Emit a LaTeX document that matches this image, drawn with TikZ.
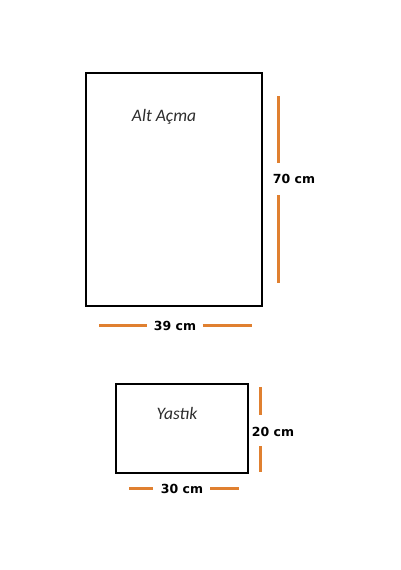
\documentclass[tikz,border=0pt]{standalone}
\usepackage{fontspec}
\setmainfont{Carlito}
\newfontfamily\dimfont{DejaVu Sans}
\definecolor{dimorange}{RGB}{224,128,48}
\definecolor{labelgray}{RGB}{45,45,45}
\tikzset{
  panel/.style={draw=black, line width=2.2pt, fill=white},
  dimline/.style={draw=dimorange, line width=3pt},
  dimlabel/.style={font=\dimfont\bfseries\fontsize{12.5}{14}\selectfont, inner sep=0pt},
  partlabel/.style={font=\itshape\fontsize{17.5}{20}\selectfont, text=labelgray, inner sep=0pt}
}
\begin{document}
\begin{tikzpicture}[x=1pt,y=-1pt]
\useasboundingbox (0,0) rectangle (400,570);
% big panel
\draw[panel] (86,73.3) rectangle (262,305.7);
\node[partlabel] (alt) at (164,117) {Alt Açma};
\coordinate (v1a) at (278,96);
\coordinate (v1b) at (278,163);
\coordinate (v1c) at (278,195);
\coordinate (v1d) at (278,282.7);
\draw[dimline] (v1a) -- (v1b);
\draw[dimline] (v1c) -- (v1d);
\node[dimlabel] (h70) at (294,179) {70 cm};
\coordinate (h1a) at (99.3,325.7);
\coordinate (h1b) at (146.7,325.7);
\coordinate (h1c) at (202.7,325.7);
\coordinate (h1d) at (251.7,325.7);
\draw[dimline] (h1a) -- (h1b);
\draw[dimline] (h1c) -- (h1d);
\node[dimlabel] (w39) at (175,326) {39 cm};
% small panel
\draw[panel] (116,384) rectangle (247.7,473.3);
\node[partlabel] (yas) at (177,413) {Yastık};
\coordinate (v2a) at (260,387);
\coordinate (v2b) at (260,415);
\coordinate (v2c) at (260,446);
\coordinate (v2d) at (260,471.7);
\draw[dimline] (v2a) -- (v2b);
\draw[dimline] (v2c) -- (v2d);
\node[dimlabel] (h20) at (273,432) {20 cm};
\coordinate (h2a) at (129.3,488.7);
\coordinate (h2b) at (153.3,488.7);
\coordinate (h2c) at (210,488.7);
\coordinate (h2d) at (239,488.7);
\draw[dimline] (h2a) -- (h2b);
\draw[dimline] (h2c) -- (h2d);
\node[dimlabel] (w30) at (182,489) {30 cm};
\end{tikzpicture}
\end{document}
